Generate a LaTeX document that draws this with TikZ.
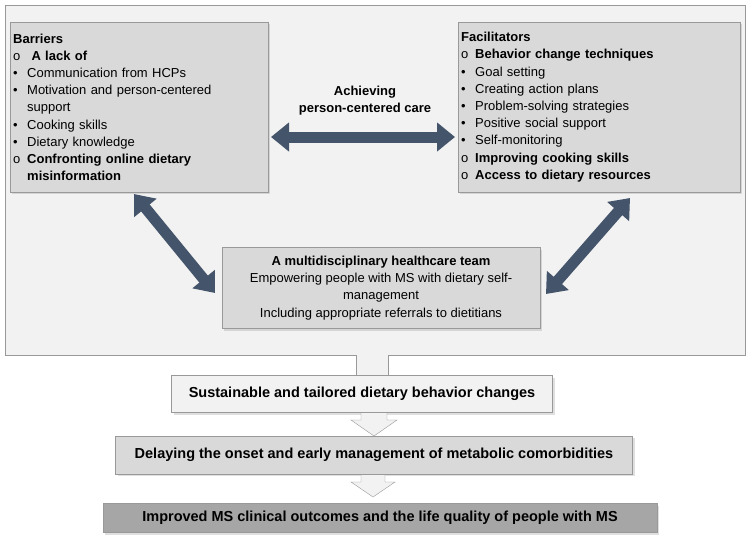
\documentclass[tikz,border=0pt]{standalone}
\usepackage{fontspec}
\setmainfont{Liberation Sans}
\usetikzlibrary{arrows.meta, shadows, calc}
\definecolor{panel}{HTML}{F2F2F2}
\definecolor{boxgray}{HTML}{D9D9D9}
\definecolor{darkgray}{HTML}{A6A6A6}
\definecolor{slate}{HTML}{44546A}
\tikzset{
  box/.style = {rectangle, draw=gray!80, fill=boxgray, inner sep=3pt, drop shadow={opacity=0.25, shadow xshift=2pt, shadow yshift=-2pt}},
  listbox/.style = {box, anchor=north west, text width=#1, align=left, minimum height=170pt},
  bigarrow/.style = {draw=slate, line width=11pt, {Triangle[width=28pt,length=18pt]}-{Triangle[width=28pt,length=18pt]}},
  downarrow/.style = {draw=gray!80, fill=panel},
  outtext/.style = {font=\fontsize{14.5}{17}\selectfont\bfseries}
}
\newcommand{\bl}{\makebox[14pt][l]{•}}
\newcommand{\ci}{\makebox[14pt][l]{o}}
\newcommand{\ind}{\hspace*{14pt}}
\begin{document}
\begin{tikzpicture}[x=1pt, y=-1pt, font=\fontsize{13}{17.2}\selectfont]
\useasboundingbox (0,0) rectangle (749,539);
\draw[draw=gray!80, fill=panel] (5,5) rectangle (745,355);
\node (bar) [listbox=252pt] at (10,22) {\textbf{Barriers}\\
\ci\textbf{ A lack of}\\
\bl Communication from HCPs\\
\bl Motivation and person-centered\\
\ind support\\
\bl Cooking skills\\
\bl Dietary knowledge\\
\ci\textbf{Confronting online dietary}\\
\ind\textbf{misinformation}};
\node (fac) [listbox=276pt] at (458,22) {\textbf{Facilitators}\\
\ci\textbf{Behavior change techniques}\\
\bl Goal setting\\
\bl Creating action plans\\
\bl Problem-solving strategies\\
\bl Positive social support\\
\bl Self-monitoring\\
\ci\textbf{Improving cooking skills}\\
\ci\textbf{Access to dietary resources}};
\node (team) [box, minimum width=318pt, minimum height=81pt, align=center] at (381,288) {\textbf{A multidisciplinary healthcare team}\\
Empowering people with MS with dietary self-\\management\\
Including appropriate referrals to dietitians};
\node (care) [font=\fontsize{13}{17.2}\selectfont\bfseries, align=center] at (365,101) {Achieving\\person-centered care};
\coordinate (l1) at (271,137);
\coordinate (r1) at (455,137);
\draw[bigarrow] (l1) -- (r1);
\coordinate (l2) at (134,194);
\coordinate (l3) at (215,293);
\draw[bigarrow] (l2) -- (l3);
\coordinate (r2) at (630,198);
\coordinate (r3) at (546,294);
\draw[bigarrow] (r2) -- (r3);
% outcome chain
\node (sus) [box, outtext, fill=panel, minimum width=381pt, minimum height=37pt] at (362,394) {Sustainable and tailored dietary behavior changes};
\node (del) [box, outtext, minimum width=517pt, minimum height=38pt] at (374,455) {Delaying the onset and early management of metabolic comorbidities};
\node (imp) [box, outtext, fill=darkgray, minimum width=554pt, minimum height=29pt] at (380,518) {Improved MS clinical outcomes and the life quality of people with MS};
\draw[downarrow] (356,355) -- (356,375) -- (388,375) -- (388,355);
\fill[panel] (357,353) rectangle (387,357);
\draw[downarrow] (361,413) -- (361,420) -- (351,420) -- (374,436) -- (397,420) -- (387,420) -- (387,413);
\draw[downarrow] (361,475) -- (361,482) -- (351,482) -- (373,497) -- (395,482) -- (385,482) -- (385,475);
\end{tikzpicture}
\end{document}
